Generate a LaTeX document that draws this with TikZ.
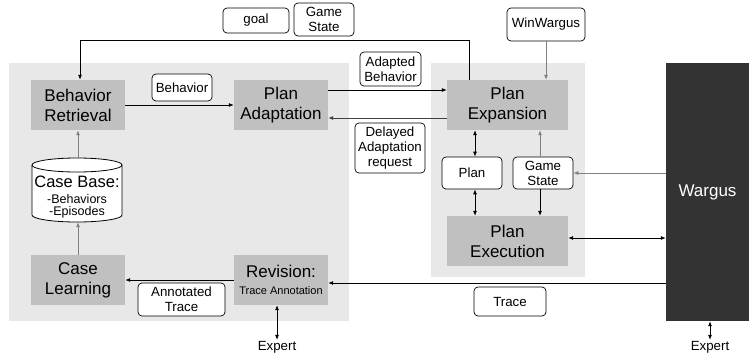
\documentclass[tikz,border=0pt]{standalone}
\usepackage{fontspec}
\setmainfont{Liberation Sans}
\usetikzlibrary{arrows.meta}
\definecolor{panel}{HTML}{E8E8E8}
\definecolor{boxgray}{HTML}{C0C0C0}
\definecolor{dark}{HTML}{333333}
\definecolor{linegray}{HTML}{808080}
\tikzset{
  procbox/.style={rectangle, fill=boxgray, draw=none, align=center, inner sep=0pt,
    font=\fontsize{17}{20}\selectfont},
  lbl/.style={rectangle, draw=black, fill=white, rounded corners=4pt, line width=0.7pt,
    align=center, inner sep=0pt, font=\fontsize{13.3}{15}\selectfont},
  arr/.style={line width=0.8pt, -{Latex[length=5pt,width=4pt]}},
  darr/.style={line width=0.8pt, {Latex[length=5pt,width=4pt]}-{Latex[length=5pt,width=4pt]}},
  garr/.style={arr, draw=linegray},
  plaintxt/.style={inner sep=1pt, font=\fontsize{13.3}{15}\selectfont},
  cbline/.style={inner sep=0pt, font=\fontsize{12.5}{12.5}\selectfont}
}
\begin{document}
\begin{tikzpicture}[x=1pt,y=-1pt]
\useasboundingbox (0,0) rectangle (749,356);
% panels
\fill[panel] (9,63) rectangle (349,321);
\fill[panel] (431,63) rectangle (585,277);
% boxes
\node[procbox, minimum width=94, minimum height=50] (br) at (78,105) {Behavior\\Retrieval};
\node[procbox, minimum width=94, minimum height=50] (pa) at (281,105) {Plan\\Adaptation};
\node[procbox, minimum width=121, minimum height=50] (pe) at (507.5,105) {Plan\\Expansion};
\node[procbox, minimum width=121, minimum height=50] (px) at (507.5,241) {Plan\\Execution};
\node[procbox, minimum width=94, minimum height=50] (cl) at (78,280) {Case\\Learning};
\node[procbox, minimum width=94, minimum height=50] (rev) at (281,280) {Revision:\\[-3pt]{\fontsize{11}{13}\selectfont Trace Annotation}};
\node[lbl, minimum width=60, minimum height=32] (plan) at (472,173) {Plan};
\node[lbl, minimum width=60, minimum height=32] (gs) at (543,173) {Game\\State};
% Wargus
\node[rectangle, fill=dark, text=white, minimum width=83, minimum height=258, inner sep=0pt,
  font=\fontsize{17}{20}\selectfont] (wargus) at (707.5,192) {Wargus};
% labels
\node[lbl, minimum width=78, minimum height=33] (ww) at (546,24.5) {WinWargus};
\node[lbl, minimum width=66, minimum height=25] (goal) at (256,20.5) {goal};
\node[lbl, minimum width=60, minimum height=33] (gstop) at (324,19.5) {Game\\State};
\node[lbl, minimum width=60, minimum height=27] (beh) at (182,87.5) {Behavior};
\node[lbl, minimum width=61, minimum height=34] (adb) at (390.5,69) {Adapted\\Behavior};
\node[lbl, minimum width=70, minimum height=50] (del) at (390,148) {Delayed\\Adaptation\\request};
\node[lbl, minimum width=87, minimum height=33] (ant) at (181.5,299.5) {Annotated\\Trace};
\node[lbl, minimum width=72, minimum height=29] (trl) at (510,301.5) {Trace};
\node[plaintxt] (ex1) at (277,347) {Expert};
\node[plaintxt] (ex2) at (710,347) {Expert};
% case base cylinder
\fill[white] (32,165) -- (32,215) arc[start angle=180, end angle=0, x radius=45, y radius=7] -- (122,165) -- cycle;
\draw[line width=0.8pt] (32,165) -- (32,215) arc[start angle=180, end angle=0, x radius=45, y radius=7] -- (122,165);
\draw[line width=0.8pt, fill=white] (77,165) ellipse[x radius=45, y radius=7];
\node[inner sep=0pt, minimum width=90, minimum height=64] (cb) at (77,190) {};
\node[inner sep=0pt, font=\fontsize{16.5}{18}\selectfont] (cbt1) at (77,182) {Case Base:};
\node[cbline] (cbt2) at (77,199.5) {-Behaviors};
\node[cbline] (cbt3) at (77,212) {-Episodes};
% connectors
\draw[arr] ([xshift=-38.5pt]pe.north) -- ++(0,-39) -| ([xshift=2pt]br.north);
\draw[arr] (br.east) -- (pa.west);
\draw[arr] ([yshift=15pt]pa.east) -- ([yshift=15pt]pe.west);
\draw[arr, draw=black!75] ([yshift=-13pt]pe.west) -- ([yshift=-13pt]pa.east);
\draw[garr] (ww.south) -- (ww.south |- pe.north);
\draw[darr] ([xshift=3pt]plan.north) -- ([xshift=3pt]plan.north |- pe.south);
\draw[darr] ([xshift=3pt]plan.south) -- ([xshift=3pt]plan.south |- px.north);
\draw[garr] ([xshift=-3pt]gs.north) -- ([xshift=-3pt]gs.north |- pe.south);
\draw[arr] ([xshift=-3pt]gs.south) -- ([xshift=-3pt]gs.south |- px.north);
\draw[garr] (gs.east -| wargus.west) -- (gs.east);
\coordinate (pxe) at ([yshift=3pt]px.east);
\draw[darr] (pxe) -- (pxe -| wargus.west);
\coordinate (tr) at ([yshift=-3pt]rev.east);
\draw[arr] (tr -| wargus.west) -- (tr);
\draw[arr] (rev.west) -- (cl.east);
\draw[darr] ([xshift=-4pt]rev.south) -- ([xshift=-4pt]rev.south |- ex1.north);
\draw[darr] (ex2.north |- wargus.south) -- (ex2.north);
\draw[garr] (br.south |- cb.north) -- (br.south);
\draw[garr] (cl.north) -- (cl.north |- cb.south);
\end{tikzpicture}
\end{document}
